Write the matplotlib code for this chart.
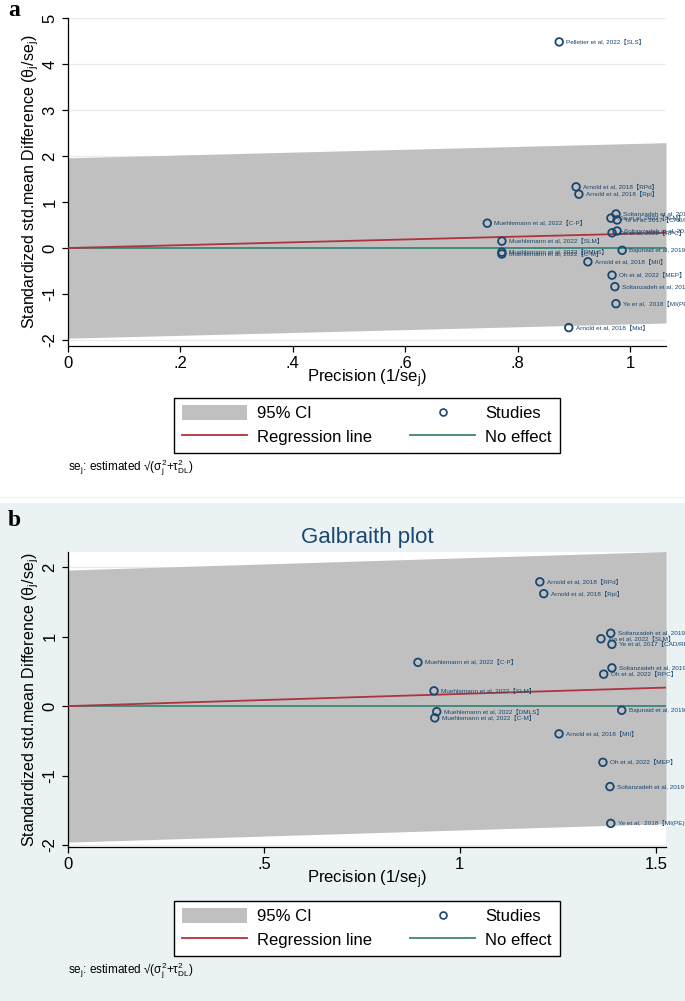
import matplotlib
matplotlib.use('Agg')
import matplotlib.pyplot as plt
from matplotlib.patches import Patch, Rectangle
from matplotlib.lines import Line2D
import numpy as np

plt.rcParams['font.family'] = ['Liberation Sans', 'Noto Sans CJK SC', 'DejaVu Sans']
plt.rcParams['mathtext.fontset'] = 'custom'
plt.rcParams['mathtext.rm'] = 'Liberation Sans'
plt.rcParams['mathtext.it'] = 'Liberation Sans:italic'
plt.rcParams['mathtext.sf'] = 'Liberation Sans'

# ---------------- data ----------------
labels_a = [
    "Pelletier et al, 2022【SLS】",
    "Arnold et al, 2018【RPd】",
    "Arnold et al, 2018【Rpi】",
    "Soltanzadeh et al, 2019【DMLS】",
    "Xia et al, 2022【SLM】",
    "Ye et al, 2017【CAD/RPC】",
    "Muehlemann et al, 2022【C-P】",
    "Soltanzadeh et al, 2019【RPC】",
    "Oh et al, 2022【RPC】",
    "Muehlemann et al, 2022【SLM】",
    "Muehlemann et al, 2022【DMLS】",
    "Muehlemann et al, 2022【C-M】",
    "Bajunaid et al, 2019【SLM】",
    "Arnold et al, 2018【MII】",
    "Oh et al, 2022【MEP】",
    "Soltanzadeh et al, 2019【MEP】",
    "Ye et al,  2018【MI(PE)】",
    "Arnold et al, 2018【Mid】",
]
precision_a = [0.874, 0.904, 0.909, 0.975, 0.966, 0.977, 0.746, 0.977, 0.968,
               0.772, 0.772, 0.772, 0.986, 0.925, 0.968, 0.973, 0.975, 0.891]
stdiff_a = [4.48, 1.33, 1.17, 0.74, 0.65, 0.61, 0.54, 0.37, 0.33,
            0.15, -0.09, -0.13, -0.05, -0.30, -0.59, -0.84, -1.21, -1.73]
slope_a = 0.31

labels_b = [
    "Arnold et al, 2018【RPd】",
    "Arnold et al, 2018【Rpi】",
    "Soltanzadeh et al, 2019【DMLS】",
    "Xia et al, 2022【SLM】",
    "Ye et al, 2017【CAD/RPC】",
    "Muehlemann et al, 2022【C-P】",
    "Soltanzadeh et al, 2019【RPC】",
    "Oh et al, 2022【RPC】",
    "Muehlemann et al, 2022【SLM】",
    "Muehlemann et al, 2022【DMLS】",
    "Muehlemann et al, 2022【C-M】",
    "Bajunaid et al, 2019【SLM】",
    "Arnold et al, 2018【MII】",
    "Oh et al, 2022【MEP】",
    "Soltanzadeh et al, 2019【MEP】",
    "Ye et al,  2018【MI(PE)】",
]
precision_b = [1.204, 1.214, 1.385, 1.360, 1.388, 0.893, 1.388, 1.367,
               0.934, 0.941, 0.936, 1.413, 1.253, 1.365, 1.383, 1.385]
stdiff_b = [1.79, 1.62, 1.05, 0.97, 0.89, 0.63, 0.55, 0.46,
            0.22, -0.08, -0.17, -0.06, -0.40, -0.81, -1.16, -1.69]
slope_b = 0.175

ci_z = 1.96
xticks_a = [0, 0.2, 0.4, 0.6, 0.8, 1.0]
xticklabels_a = ['0', '.2', '.4', '.6', '.8', '1']
yticks_a = [-2, -1, 0, 1, 2, 3, 4, 5]
xticks_b = [0, 0.5, 1.0, 1.5]
xticklabels_b = ['0', '.5', '1', '1.5']
yticks_b = [-2, -1, 0, 1, 2]

# ---------------- style ----------------
NAVY = '#1a476f'
RED = '#b0323c'
TEAL = '#3b8577'
BAND = '#c0c0c0'
BG = '#eaf2f3'
GRID = '#e4ecee'

W, H = 685, 1001
fig = plt.figure(figsize=(W / 100, H / 100), dpi=100)
fig.add_artist(Rectangle((0, 0), 1, 1 - 503 / H, transform=fig.transFigure,
                         facecolor=BG, edgecolor='none', zorder=-10))
fig.add_artist(Line2D([0, 1], [1 - 497 / H, 1 - 497 / H], transform=fig.transFigure,
                      color='#eef2f3', lw=1.0, zorder=-9))


def px_axes(left, top, right, bottom):
    return [left / W, 1 - bottom / H, (right - left) / W, (bottom - top) / H]


def draw_panel(ax, prec, z, labs, slope, xlim, ylim, xticks, xticklabels, yticks,
               ylab_x, xlab_y):
    xs = np.array([xlim[0], xlim[1]])
    ax.fill_between(xs, slope * xs - ci_z, slope * xs + ci_z, color=BAND, lw=0, zorder=1)
    ax.axhline(0, color=TEAL, lw=1.3, zorder=2)
    ax.plot(xs, slope * xs, color=RED, lw=1.3, zorder=3)
    ax.scatter(prec, z, s=30, facecolors='none', edgecolors=NAVY, linewidths=1.3, zorder=4)
    for x, y, lab in zip(prec, z, labs):
        ax.annotate(lab, (x, y), xytext=(5, 0), textcoords='offset points',
                    fontsize=4.6, color=NAVY, va='center', ha='left',
                    annotation_clip=False, zorder=5)
    ax.set_xlim(*xlim)
    ax.set_ylim(*ylim)
    ax.set_xticks(xticks)
    ax.set_xticklabels(xticklabels)
    ax.set_yticks(yticks)
    ax.set_yticklabels([str(t) for t in yticks], rotation=90, va='center')
    ax.yaxis.grid(True, color=GRID, lw=0.9, zorder=0)
    ax.set_axisbelow(True)
    for s in ['top', 'right']:
        ax.spines[s].set_visible(False)
    for s in ['left', 'bottom']:
        ax.spines[s].set_linewidth(0.9)
        ax.spines[s].set_color('black')
    ax.tick_params(direction='out', length=4.5, width=0.9, labelsize=12, pad=3)
    ax.set_ylabel(r'Standardized std.mean Difference (θ$_\mathrm{j}$/se$_\mathrm{j}$)',
                  fontsize=11.5)
    ax.yaxis.set_label_coords(ylab_x, 0.5)
    ax.set_xlabel(r'Precision (1/se$_\mathrm{j}$)', fontsize=12)
    ax.xaxis.set_label_coords(0.5, xlab_y)
    ax.xaxis.label.set_va('center')
    ax.yaxis.label.set_va('center')


# Panel a
ax_a = fig.add_axes(px_axes(68, 18, 666, 346))
ax_a.set_facecolor('white')
draw_panel(ax_a, precision_a, stdiff_a, labels_a, slope_a, (0, 1.064), (-2.13, 5.0),
           xticks_a, xticklabels_a, yticks_a, (31 - 68) / 598, (346 - 379) / 328)

# Panel b
ax_b = fig.add_axes(px_axes(68, 552, 666, 847))
ax_b.set_facecolor('white')
draw_panel(ax_b, precision_b, stdiff_b, labels_b, slope_b, (0, 1.526), (-2.03, 2.22),
           xticks_b, xticklabels_b, yticks_b, (31 - 68) / 598, (847 - 880) / 295)

fig.text(367 / W, 1 - 538 / H, 'Galbraith plot', fontsize=16, color=NAVY,
         ha='center', va='center')


def make_legend(cy):
    handles = [
        Patch(facecolor=BAND, edgecolor='none'),
        Line2D([], [], color=RED, lw=1.3),
        Line2D([], [], marker='o', ls='none', mfc='none', mec=NAVY, ms=5, mew=1.2),
        Line2D([], [], color=TEAL, lw=1.3),
    ]
    labs = ['95% CI', 'Regression line', 'Studies', 'No effect']
    leg = fig.legend(handles, labs, ncol=2, loc='center', bbox_to_anchor=(367 / W, 1 - cy / H),
                     frameon=True, fancybox=False, edgecolor='black', facecolor='white',
                     framealpha=1, fontsize=12, handlelength=3.9, handleheight=1.0,
                     handletextpad=0.6, columnspacing=2.3, labelspacing=0.44,
                     borderpad=0.46, borderaxespad=0)
    leg.get_frame().set_linewidth(1.0)
    return leg


make_legend(425)
make_legend(928)

foot = r'se$_\mathrm{j}$: estimated √(σ$_\mathrm{j}^2$+τ$^2_\mathrm{DL}$)'
fig.text(68 / W, 1 - 468 / H, foot, fontsize=8.5, ha='left', va='center')
fig.text(68 / W, 1 - 971 / H, foot, fontsize=8.5, ha='left', va='center')

fig.text(8 / W, 1 - 10 / H, 'a', fontsize=17, fontweight='bold', family='Liberation Serif',
         ha='left', va='center')
fig.text(8 / W, 1 - 520 / H, 'b', fontsize=17, fontweight='bold', family='Liberation Serif',
         ha='left', va='center')

fig.savefig('out.png', dpi=100)
